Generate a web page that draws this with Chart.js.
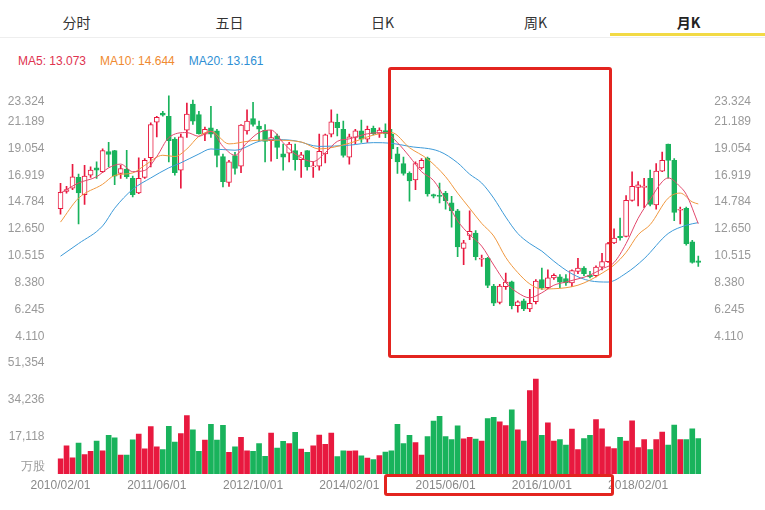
<!DOCTYPE html>
<html>
<head>
<meta charset="utf-8">
<script src="https://cdn.jsdelivr.net/npm/chart.js@4.4.0/dist/chart.umd.min.js"></script>
<style>
body{margin:0;background:#fff;font-family:"Noto Sans CJK SC","Liberation Sans",sans-serif;}
#wrap{position:relative;width:765px;height:510px;overflow:hidden;background:#fff;}
.tab{position:absolute;top:12px;width:153px;text-align:center;font-size:14px;color:#333;line-height:20px;}
.tab.on{font-weight:bold;color:#222;}
#sep{position:absolute;left:0;top:37px;width:765px;height:1px;background:#eee;}
#bar{position:absolute;left:610px;top:33px;width:155px;height:3px;background:#f2da45;}
#legend{position:absolute;left:18px;top:54px;font-size:12px;font-family:"Liberation Sans",Arial,sans-serif;}
#legend span{margin-right:14px;}
.box{position:absolute;border:3px solid #e3241f;border-radius:3px;box-sizing:border-box;}
canvas{position:absolute;left:0;}
</style>
</head>
<body>
<div id="wrap">
  <div class="tab" style="left:0">分时</div>
  <div class="tab" style="left:153px">五日</div>
  <div class="tab" style="left:306px">日K</div>
  <div class="tab" style="left:459px">周K</div>
  <div class="tab on" style="left:612px">月K</div>
  <div id="sep"></div>
  <div id="bar"></div>
  <div id="legend"><span style="color:#e0334f">MA5: 13.073</span><span style="color:#f08a30">MA10: 14.644</span><span style="color:#2e8fd4">MA20: 13.161</span></div>
  <canvas id="price" width="765" height="274" style="top:75px"></canvas>
  <canvas id="vol" width="765" height="146" style="top:350px"></canvas>
  <div class="box" style="left:388px;top:67px;width:224px;height:291px"></div>
  <div class="box" style="left:384px;top:474px;width:230px;height:22px"></div>
</div>
<script>
// monthly candles, 2010/02 .. 2018/12
var candleOpen = [14.27,15.64,15.9,16.75,15.38,16.93,17.5,17.19,18.8,18.87,
  17.06,17.4,16.67,15.51,16.75,18.3,21.12,21.85,21.59,19.78,
  17.32,20.48,22.55,21.72,20.17,20.68,20.43,18.4,16.34,18.48,
  17.63,20.43,21.41,20.81,20.48,19.65,20.04,18.61,18.67,18.87,
  18.15,18.87,17.58,17.63,18.61,20.17,21.12,20.56,18.35,19.91,
  20.43,19.78,20.64,20.24,20.45,20.17,18.62,17.84,17.06,16.55,
  17.5,18.28,15.38,15.33,15.51,14.73,14.09,11.11,12.15,12.33,
  10.26,10.33,8.13,6.84,8.08,8.47,6.58,6.97,6.32,6.9,
  8.65,8.0,8.78,8.86,8.73,8.39,9.3,9.55,9.01,8.96,
  9.63,10.07,11.55,12.07,12.07,14.92,15.95,15.95,16.68,14.56,
  17.24,19.39,18.1,14.14,14.3,11.63,10.13];
var candleClose = [15.56,15.77,16.8,15.51,16.85,17.32,17.32,18.87,18.56,16.85,
  17.45,16.8,15.38,16.67,18.1,20.94,21.51,21.67,19.65,17.11,
  19.96,21.77,21.2,20.22,20.56,20.17,18.48,16.41,17.97,17.45,
  20.89,21.2,20.94,20.56,19.6,19.91,19.13,18.35,19.39,18.15,
  18.54,17.58,17.65,18.82,20.12,21.15,20.68,18.48,19.96,20.43,
  19.78,20.56,20.22,20.5,20.2,19.0,17.97,17.06,16.47,17.84,
  18.1,15.43,15.25,15.23,14.91,14.09,11.24,11.55,12.48,10.46,
  10.31,8.18,6.78,8.13,8.44,6.58,6.89,6.32,6.76,8.52,
  8.0,8.78,8.99,8.44,8.39,9.35,9.55,9.11,8.86,9.63,
  10.07,11.5,11.94,11.97,14.92,16.03,16.16,16.05,14.61,17.24,
  18.1,18.1,13.96,14.22,11.5,10.0,10.0];
var candleHigh = [16.28,16.03,17.79,17.0,17.71,17.58,17.97,19.0,19.52,18.9,
  17.71,18.9,16.85,18.3,18.23,21.07,21.59,21.98,23.22,19.91,
  20.17,22.63,22.88,21.98,20.74,22.37,20.56,18.6,18.1,18.74,
  20.94,22.1,22.7,21.2,20.94,20.48,20.17,19.39,19.52,19.39,
  18.74,18.87,17.97,20.17,20.17,22.11,21.77,21.2,20.17,20.56,
  21.28,20.81,20.81,20.68,21.0,20.56,19.13,18.36,17.19,17.97,
  18.23,18.36,15.43,16.29,15.64,15.25,14.22,11.76,14.09,12.53,
  10.59,10.41,8.26,8.26,9.16,8.52,6.97,7.1,7.87,8.65,
  9.55,9.42,9.11,9.04,9.04,9.42,10.33,9.68,9.3,9.73,
  10.72,11.6,12.66,13.52,15.3,17.19,16.42,16.68,17.32,17.84,
  18.75,19.39,18.23,14.4,14.4,11.76,10.51];
var candleLow = [13.83,15.5,15.77,13.05,14.6,16.75,16.67,17.11,17.58,16.16,
  16.67,16.67,15.2,15.46,16.67,17.58,19.96,21.59,17.97,16.93,
  15.9,19.91,20.94,20.17,19.65,19.91,17.58,16.0,16.03,17.0,
  17.11,20.17,20.81,19.65,17.97,18.04,18.23,17.32,17.97,17.32,
  16.75,17.32,16.75,17.32,17.89,19.96,20.04,18.35,17.79,19.39,
  19.52,19.52,20.12,19.91,19.9,18.23,17.06,16.93,14.86,15.77,
  17.4,15.25,15.12,14.73,14.22,12.79,10.46,9.82,11.81,10.21,
  9.69,8.0,6.58,6.71,7.87,6.32,6.06,6.19,6.11,6.71,
  7.87,7.92,8.65,8.0,8.18,8.08,9.11,8.96,8.78,8.86,
  9.42,10.0,11.5,11.76,12.02,14.86,14.48,14.35,14.48,14.22,
  17.19,16.68,13.31,13.05,11.37,9.95,9.69];
// volume, 万股
var volumes = [6980,12890,7420,14230,8890,10370,15120,10670,17780,16600,
  8740,8740,15700,18370,11560,21790,12450,11260,21920,14670,
  18520,26810,20300,10370,15560,22810,15560,22370,9930,12450,
  16900,10670,10370,13930,8140,18810,11860,14970,13930,19120,
  11410,9930,12890,17930,13640,18810,8000,10670,10520,10670,
  8300,7260,6670,8450,10080,10670,22810,13930,17780,14380,
  8740,17190,24300,26530,17190,15860,22070,16150,16900,16000,
  15120,25480,26080,24010,22230,29480,20300,15120,38370,43570,
  17780,23560,15120,15860,13340,20600,11260,16300,17780,25040,
  20750,12450,11710,16900,15120,24450,12150,15860,11260,15860,
  19270,13340,22520,15860,15860,20750,16300];
// moving averages at these candle indices
var ma5Idx = [0,3,6,8,10,12,14,16,18,21,23,25,27,29,31,33,35,37,39,42,44,46,48,51,54,56,58,60,62,64,66,68,70,72,74,76,78,80,82,84,86,88,90,92,94,96,98,100,101,103,104,106];
var ma5Val = [15.5,16.3,16.8,17.5,17.8,17.2,17.3,18.4,19.9,20.3,20.0,20.4,19.2,18.5,19.5,20.3,20.5,19.5,18.6,18.0,18.7,19.6,19.8,20.2,20.3,19.5,18.4,17.2,16.5,15.0,13.3,12.2,11.3,9.8,8.4,7.6,7.2,7.6,8.2,8.45,8.7,9.0,9.5,10.0,11.5,13.5,15.0,16.4,16.7,16.0,15.4,13.07];
var ma10Idx = [0,3,7,9,12,14,17,19,21,23,25,28,31,33,35,40,43,48,52,55,58,61,64,66,68,70,72,74,76,78,80,82,84,86,88,90,92,94,96,98,101,103,105,106];
var ma10Val = [13.2,15.1,16.2,16.9,17.1,17.7,18.5,18.4,19.0,20.0,20.4,19.4,19.6,19.7,19.7,19.55,19.0,19.45,20.1,20.3,19.1,18.2,16.8,15.5,14.3,13.1,12.1,10.4,9.2,8.3,7.9,7.92,8.0,8.2,8.6,9.15,9.8,10.8,12.2,13.0,15.1,15.5,14.8,14.64];
var ma20Idx = [0,3,7,9,12,15,18,20,23,25,29,33,35,39,43,48,52,55,58,63,66,68,70,72,74,76,78,80,82,85,88,91,94,97,101,104,106];
var ma20Val = [10.5,11.5,12.9,14.3,15.8,16.7,17.5,17.9,18.6,19.0,18.9,19.6,19.75,19.65,19.2,19.3,19.5,19.45,19.2,18.8,17.9,17.0,16.3,15.1,13.6,12.3,11.5,10.9,10.1,9.1,8.55,8.45,9.15,10.3,12.3,12.95,13.16];
var priceTicks = [4.110,6.245,8.380,10.515,12.650,14.784,16.919,19.054,21.189,23.324];
var priceTickLabels = ['4.110','6.245','8.380','10.515','12.650','14.784','16.919','19.054','21.189','23.324'];
var volTicks = [0,17118,34236,51354];
var volTickLabels = ['万股','17,118','34,236','51,354'];
var dateTicks = {0:'2010/02/01',16:'2011/06/01',32:'2012/10/01',48:'2014/02/01',64:'2015/06/01',80:'2016/10/01',96:'2018/02/01'};

var RED = '#e8193f', GREEN = '#19b35c';
var months = [];
for (var i = 0; i < candleOpen.length; i++) {
  var y = 2010 + Math.floor((i + 1) / 12), m = (i + 1) % 12 + 1;
  months.push(y + '/' + (m < 10 ? '0' + m : m) + '/01');
}
function fillLine(idx, val) {
  var out = months.map(function () { return null; });
  idx.forEach(function (k, j) { out[k] = val[j]; });
  return out;
}
var up = candleOpen.map(function (o, i) { return candleClose[i] >= o; });
var candleColor = up.map(function (u) { return u ? RED : GREEN; });

Chart.defaults.font.family = '"Liberation Sans", Arial, sans-serif';
Chart.defaults.font.size = 12;
Chart.defaults.color = '#999';

var LEFTW = 57.5, RIGHTW = 63.7;

// top label sits under its line
function priceLabel(v, i) {
  if (i === priceTickLabels.length - 1) return ['', priceTickLabels[i]];
  return priceTickLabels[i];
}

function lineSet(label, data, color) {
  return {type: 'line', label: label, data: data, borderColor: color, borderWidth: 1,
    pointRadius: 0, spanGaps: true, cubicInterpolationMode: 'monotone', order: 1};
}

new Chart(document.getElementById('price'), {
  data: {
    labels: months,
    datasets: [
      {type: 'bar', label: 'wick', data: candleLow.map(function (l, i) { return [l, candleHigh[i]]; }),
        backgroundColor: candleColor, barThickness: 1, grouped: false, order: 3},
      {type: 'bar', label: 'body', data: candleOpen.map(function (o, i) { return [o, candleClose[i]]; }),
        backgroundColor: up.map(function (u) { return u ? '#fff' : GREEN; }),
        borderColor: candleColor, borderWidth: 1, borderSkipped: false,
        barThickness: 5, minBarLength: 1, grouped: false, order: 2},
      lineSet('MA5', fillLine(ma5Idx, ma5Val), '#e2486c'),
      lineSet('MA10', fillLine(ma10Idx, ma10Val), '#f0983f'),
      lineSet('MA20', fillLine(ma20Idx, ma20Val), '#3d9ad8')
    ]
  },
  options: {
    responsive: false, animation: false,
    layout: {padding: {top: 10, bottom: 10, left: 0, right: 0}},
    plugins: {legend: {display: false}, tooltip: {enabled: false}},
    scales: {
      x: {display: false, offset: true},
      y: {
        min: 4.110, max: 23.324, position: 'left',
        grid: {display: false}, border: {display: false},
        afterBuildTicks: function (s) { s.ticks = priceTicks.map(function (v) { return {value: v}; }); },
        afterFit: function (s) { s.width = LEFTW; },
        ticks: {padding: 5, autoSkip: false, callback: priceLabel}
      },
      y2: {
        min: 4.110, max: 23.324, position: 'right',
        grid: {display: false}, border: {display: false},
        afterBuildTicks: function (s) { s.ticks = priceTicks.map(function (v) { return {value: v}; }); },
        afterFit: function (s) { s.width = RIGHTW; },
        ticks: {padding: 5, autoSkip: false, callback: priceLabel}
      }
    }
  }
});

new Chart(document.getElementById('vol'), {
  type: 'bar',
  data: {
    labels: months,
    datasets: [{label: '成交量', data: volumes, backgroundColor: candleColor, barThickness: 5}]
  },
  options: {
    responsive: false, animation: false,
    layout: {padding: {top: 9.5, bottom: 0, left: 0, right: RIGHTW}},
    plugins: {legend: {display: false}, tooltip: {enabled: false}},
    scales: {
      x: {
        offset: true, grid: {display: false, drawTicks: false}, border: {display: false},
        afterFit: function (s) { s.height = 22; },
        ticks: {autoSkip: false, maxRotation: 0, padding: 4, color: '#888',
          callback: function (v, i) { return dateTicks[i] || ''; }}
      },
      y: {
        min: 0, max: 51354,
        grid: {display: false}, border: {display: false},
        afterBuildTicks: function (s) { s.ticks = volTicks.map(function (v) { return {value: v}; }); },
        afterFit: function (s) { s.width = LEFTW; },
        ticks: {padding: 5, autoSkip: false, callback: function (v, i) {
          return i === 0 ? [volTickLabels[i], ''] : volTickLabels[i];
        }}
      }
    }
  }
});
</script>
</body>
</html>
